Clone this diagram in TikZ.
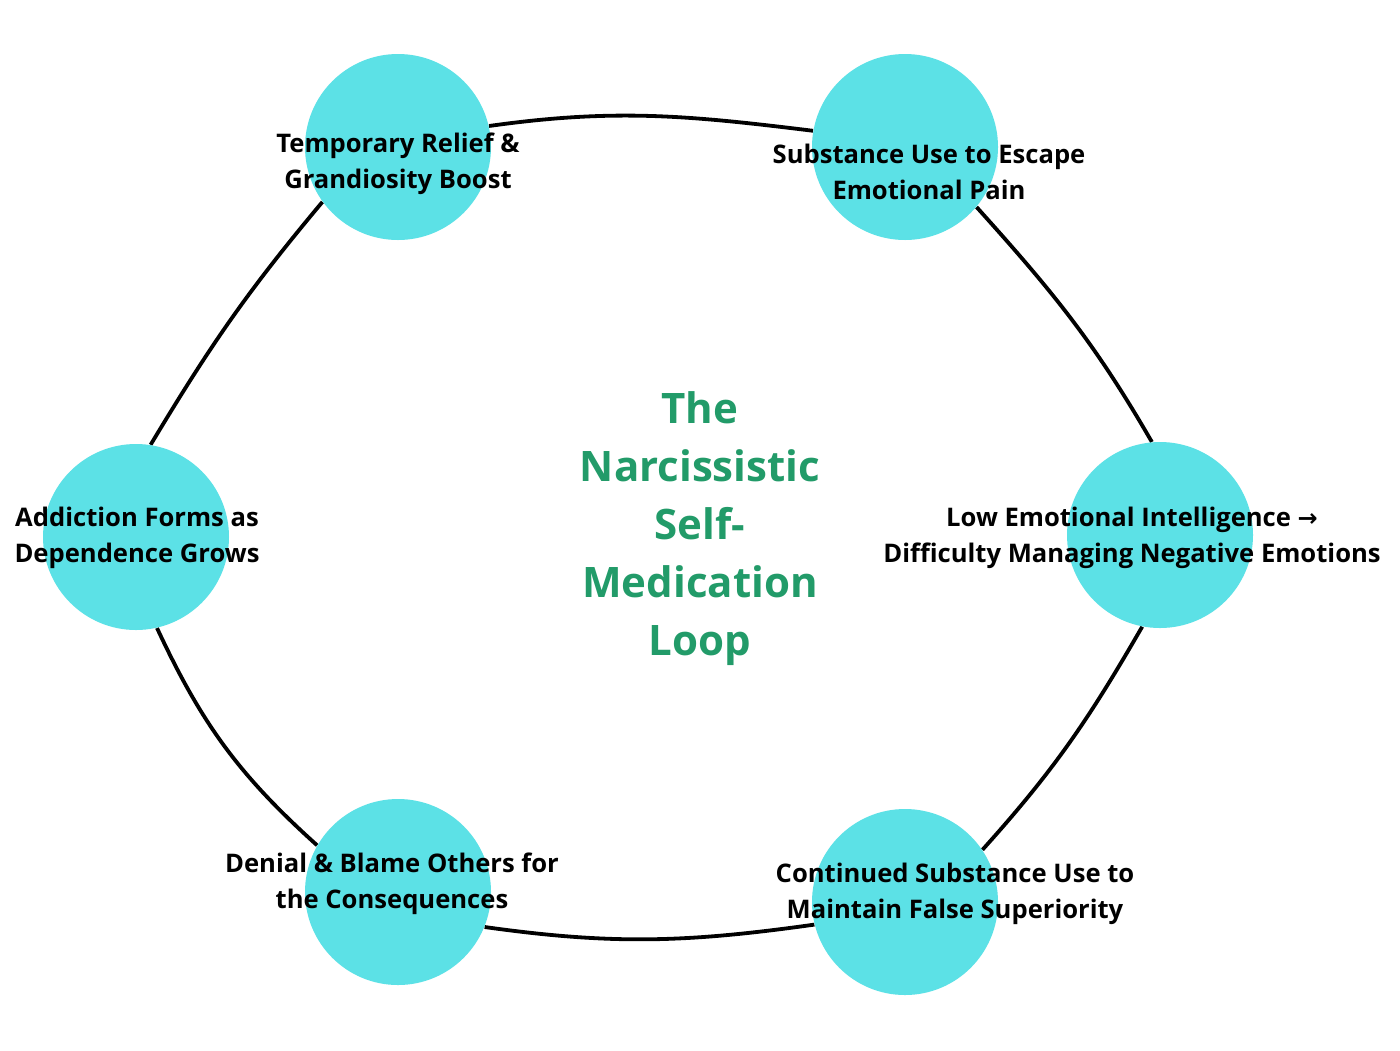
\documentclass[tikz,border=0pt]{standalone}
\usepackage{fontspec}
\setmainfont{Open Sans}
\newfontfamily\arrowfont{DejaVu Sans}
\usetikzlibrary{backgrounds}
\definecolor{bubblecol}{HTML}{5CE1E6}
\definecolor{titlegreen}{HTML}{229B69}
\begin{document}
\begin{tikzpicture}[x=0.5pt,y=-0.5pt,
  bubble/.style={circle,fill=bubblecol,minimum size=93pt,inner sep=0pt},
  lbl/.style={align=center,font=\bfseries\fontsize{12.8}{18}\selectfont,text=black,inner sep=0pt},
  ttl/.style={align=center,font=\bfseries\fontsize{21}{29}\selectfont,text=titlegreen,inner sep=0pt},
  link/.style={line width=1.9pt,draw=black}]
\useasboundingbox (0,0) rectangle (1400,1050);
% circles
\node[bubble] (c1) at (398,147) {};
\node[bubble] (c2) at (905,147) {};
\node[bubble] (c3) at (1160,535) {};
\node[bubble] (c4) at (905,902) {};
\node[bubble] (c5) at (398,892) {};
\node[bubble] (c6) at (136,537) {};
% background and connectors
\begin{scope}[on background layer]
\fill[white] (0,0) rectangle (1400,1050);
\draw[link] (c1.13) to[out=8,in=173] (c2.170);
\draw[link] (c2.-40) to[out=-48,in=120] (c3.95);
\draw[link] (c3.-101) to[out=240,in=48] (c4.34.6);
\draw[link] (c5.-22) to[out=-8,in=188] (c4.194);
\draw[link] (c6.-77) to[out=-65,in=138] (c5.150);
\draw[link] (c6.81.5) to[out=59,in=230] (c1.216);
\end{scope}
% labels
\node[lbl] (t1) at (398,164) {Temporary Relief \&\\Grandiosity Boost};
\node[lbl] (t2) at (929,172) {Substance Use to Escape\\Emotional Pain};
\node[lbl] (t3) at (1132,538) {Low Emotional Intelligence {\arrowfont\bfseries\fontsize{12}{18}\selectfont →}\\Difficulty Managing Negative Emotions};
\node[lbl] (t4) at (955,894) {Continued Substance Use to\\Maintain False Superiority};
\node[lbl] (t5) at (392,884) {Denial \& Blame Others for\\the Consequences};
\node[lbl] (t6) at (137,538) {Addiction Forms as\\Dependence Grows};
\node[ttl] (title) at (700,529) {The\\Narcissistic\\Self-\\Medication\\Loop};
\end{tikzpicture}
\end{document}
